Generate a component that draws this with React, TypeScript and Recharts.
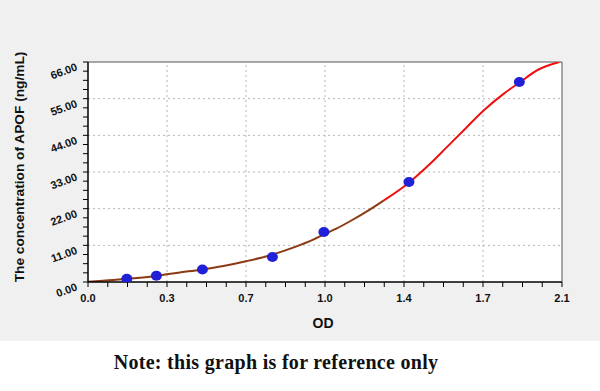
import React from 'react';
import { ComposedChart, Line, Scatter, XAxis, YAxis, ReferenceLine, ReferenceArea } from 'recharts';

// standard points
const stdOD = [0.172, 0.303, 0.507, 0.817, 1.045, 1.422, 1.911];
const stdConc = [0.94, 1.88, 3.75, 7.5, 15, 30, 60];

// fitted curve, sampled by eye
const fitOD = [0, 0.112, 0.2, 0.3, 0.349, 0.4, 0.5, 0.6, 0.705, 0.8, 0.912, 1.0, 1.045, 1.1, 1.163, 1.25, 1.311, 1.422, 1.518, 1.592, 1.666, 1.755, 1.844, 1.911, 1.992, 2.088];
const fitConc = [0.1, 0.6, 1.1, 1.8, 2.3, 2.8, 3.7, 4.8, 6.3, 7.9, 10.4, 12.8, 14.3, 16.0, 18.3, 21.8, 24.5, 29.8, 35.6, 40.6, 45.6, 51.6, 56.6, 59.8, 63.6, 66];
const colorSplit = 1.311;

const xMajor = [0, 0.35, 0.7, 1.05, 1.4, 1.75, 2.1];
const xLabels = ['0.0', '0.3', '0.7', '1.0', '1.4', '1.7', '2.1'];
const xMinor = [0.0875, 0.175, 0.2625, 0.4375, 0.525, 0.6125, 0.7875, 0.875, 0.9625, 1.1375, 1.225, 1.3125, 1.4875, 1.575, 1.6625, 1.8375, 1.925, 2.0125];
const yMajor = [0, 11, 22, 33, 44, 55, 66];
const yLabels = ['0.00', '11.00', '22.00', '33.00', '44.00', '55.00', '66.00'];
const yMinor = [2.75, 5.5, 8.25, 13.75, 16.5, 19.25, 24.75, 27.5, 30.25, 35.75, 38.5, 41.25, 46.75, 49.5, 52.25, 57.75, 60.5, 63.25];

const points = stdOD.map((od, i) => ({ od, conc: stdConc[i] }));
const fit = fitOD.map((od, i) => ({ od, conc: fitConc[i] }));
const fitLow = fit.filter(d => d.od <= colorSplit);
const fitHigh = fit.filter(d => d.od >= colorSplit);

const font = '"Liberation Sans", Arial, sans-serif';

const XTick = (props: any) => {
  const { x, y, payload } = props;
  const idx = xMajor.indexOf(payload.value);
  return (
    <g>
      <line x1={x} x2={x} y1={y} y2={y + 5} stroke="#000" strokeWidth={1} />
      {idx >= 0 && (
        <text x={x} y={y + 20} textAnchor="middle" fontSize={11} fontWeight="bold" fontFamily={font} fill="#111">
          {xLabels[idx]}
        </text>
      )}
    </g>
  );
};

const YTick = (props: any) => {
  const { x, y, payload } = props;
  const idx = yMajor.indexOf(payload.value);
  const lx = x - 10;
  const ly = y + 8;
  return (
    <g>
      <line x1={x - 5} x2={x} y1={y} y2={y} stroke="#000" strokeWidth={1} />
      {idx >= 0 && (
        <text x={lx} y={ly} textAnchor="end" fontSize={11} fontWeight="bold" fontFamily={font} fill="#111"
          transform={`rotate(-20 ${lx} ${ly})`}>
          {yLabels[idx]}
        </text>
      )}
    </g>
  );
};

const Dot = (props: any) => {
  const { cx, cy } = props;
  return <ellipse cx={cx} cy={cy} rx={5.5} ry={5} fill="#2020d8" />;
};

export default function App() {
  return (
    <div style={{ position: 'absolute', left: 0, top: 0, width: 600, height: 391, background: '#fff' }}>
      <div style={{ position: 'absolute', left: 0, top: 0, width: 600, height: 341, background: '#f0f0f0' }} />
      <div style={{ position: 'absolute', left: 0, top: 0 }}>
        <ComposedChart width={600} height={340} margin={{ top: 62, right: 38, left: 28, bottom: 28 }}>
          <XAxis
            type="number"
            dataKey="od"
            domain={[0, 2.1]}
            ticks={[...xMajor, ...xMinor].sort((a, b) => a - b)}
            interval={0}
            tick={<XTick />}
            tickLine={false}
            tickSize={0}
            tickMargin={0}
            height={30}
            axisLine={{ stroke: '#000', strokeWidth: 1.5 }}
            allowDataOverflow
          />
          <YAxis
            type="number"
            dataKey="conc"
            domain={[0, 66]}
            ticks={[...yMajor, ...yMinor].sort((a, b) => a - b)}
            interval={0}
            tick={<YTick />}
            tickLine={false}
            tickSize={0}
            tickMargin={0}
            width={60}
            axisLine={{ stroke: '#000', strokeWidth: 1.5 }}
            allowDataOverflow
          />
          <ReferenceArea x1={0} x2={2.1} y1={0} y2={66} fill="#fff" fillOpacity={1} stroke="none" />
          {xMajor.slice(1, -1).map(v => (
            <ReferenceLine key={`gx${v}`} x={v} stroke="#b5b5b5" strokeDasharray="2 3" />
          ))}
          {yMajor.slice(1, -1).map(v => (
            <ReferenceLine key={`gy${v}`} y={v} stroke="#b5b5b5" strokeDasharray="2 3" />
          ))}
          <ReferenceLine y={66} stroke="#555" strokeWidth={1} />
          <ReferenceLine x={2.1} stroke="#555" strokeWidth={1} />
          <Line data={fitLow} dataKey="conc" type="monotone" stroke="#8b3a14" strokeWidth={2} dot={false} isAnimationActive={false} />
          <Line data={fitHigh} dataKey="conc" type="monotone" stroke="#ee1111" strokeWidth={2} dot={false} isAnimationActive={false} />
          <Scatter data={points} dataKey="conc" shape={<Dot />} isAnimationActive={false} />
        </ComposedChart>
      </div>
      <div style={{ position: 'absolute', left: 19, top: 167, transform: 'translate(-50%, -50%) rotate(-90deg)', whiteSpace: 'nowrap', fontFamily: font, fontWeight: 'bold', fontSize: 13.7, color: '#111' }}>
        The concentration of APOF (ng/mL)
      </div>
      <div style={{ position: 'absolute', left: 323, top: 323, transform: 'translate(-50%, -50%)', fontFamily: font, fontWeight: 'bold', fontSize: 14, color: '#111' }}>
        OD
      </div>
      <div style={{ position: 'absolute', left: 276, top: 362, transform: 'translate(-50%, -50%)', whiteSpace: 'nowrap', fontFamily: '"Liberation Serif", serif', fontWeight: 'bold', fontSize: 20, letterSpacing: 0.3, color: '#111' }}>
        Note: this graph is for reference only
      </div>
    </div>
  );
}
